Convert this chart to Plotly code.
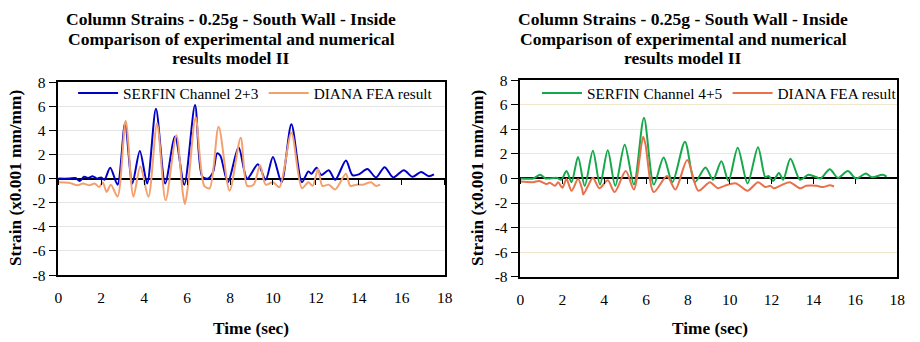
import plotly.graph_objects as go

# ---------------- data ----------------
# Left chart: SERFIN Channel 2+3
t_serfin23 = [0, 0.5, 0.8, 1.0, 1.2, 1.4, 1.6, 1.8, 2.0, 2.15, 2.42, 2.76, 3.11, 3.45, 3.8, 4.14, 4.55, 4.98,
              5.44, 5.87, 6.37, 6.7, 6.95, 7.2, 7.4, 7.55, 7.9, 8.4, 8.8, 9.3, 9.66, 10.0, 10.4, 10.86, 11.35,
              11.65, 11.8, 12.03, 12.25, 12.6, 12.9, 13.4, 13.7, 14.0, 14.4, 14.8, 15.2, 15.6, 16.1, 16.5,
              16.9, 17.26, 17.5]
v_serfin23 = [0, 0.0, 0.05, -0.2, 0.15, 0.05, 0.2, 0.0, 0.1, -0.1, 0.9, -0.5, 4.6, -0.4, 2.3, -0.4, 5.8, -0.4,
              3.5, -0.5, 6.1, 0.2, 0.0, 0.5, 2.1, 1.9, -0.3, 2.6, 0.0, 1.2, -0.1, 1.8, -0.3, 4.5, -0.3,
              0.6, 0.4, 0.9, 0.3, 0.7, -0.1, 1.5, 0.3, 0.35, 0.8, 0.1, 0.95, 0.1, 0.7, 0.15,
              0.55, 0.2, 0.35]

# Left chart: DIANA FEA result
t_diana_l = [0, 0.5, 0.9, 1.15, 1.45, 1.7, 1.9, 2.07, 2.25, 2.45, 2.76, 3.14, 3.5, 3.82, 4.2, 4.6, 5.0, 5.5,
             5.8, 5.9, 6.05, 6.4, 6.8, 7.05, 7.47, 7.98, 8.5, 8.8, 9.1, 9.4, 9.66, 10.0, 10.3, 10.86, 11.35,
             11.65, 11.85, 12.1, 12.3, 12.6, 12.9, 13.4, 13.6, 13.9, 14.2, 14.57, 14.8, 15.0]
v_diana_l = [-0.3, -0.35, -0.55, -0.4, -0.55, -0.4, -0.7, -0.3, -1.1, -0.5, -1.5, 4.8, -1.5, 1.0, -1.5, 4.6,
             -1.8, 3.6, -1.2, -2.1, -0.5, 5.1, -0.6, -0.8, 4.3, -1.0, 3.4, -0.6, -0.5, 1.1, -0.5, -0.3, -0.7,
             3.8, -0.8, -0.3, -0.6, 0.8, -0.6, -0.5, -0.9, 0.4, -0.6, -0.5, -0.5, -0.3, -0.6, -0.5]

# Right chart: SERFIN Channel 4+5
t_serfin45 = [0, 0.6, 0.94, 1.2, 1.73, 1.95, 2.2, 2.44, 2.75, 3.07, 3.46, 3.8, 4.17, 4.53, 4.98, 5.42, 5.9,
              6.37, 6.84, 7.26, 7.86, 8.33, 8.84, 9.2, 9.6, 9.94, 10.38, 10.85, 11.35, 11.7, 11.85, 12.07,
              12.35, 12.55, 12.9, 13.36, 13.76, 14.15, 14.35, 14.78, 15.17, 15.64, 16.04, 16.5, 16.8, 17.3, 17.5]
v_serfin45 = [0, 0, 0.3, 0, 0.05, -0.1, 0.6, -0.3, 1.75, -0.6, 2.25, -0.5, 2.3, -0.6, 2.75, -0.5, 4.95,
              -0.5, 1.7, -0.3, 3.0, -0.3, 0.9, -0.1, 1.4, -0.2, 2.5, -0.4, 2.55, 0.1, 0.2, -0.2,
              0.45, -0.1, 1.6, -0.1, 0.3, 0.1, 0.0, 0.75, 0.05, 0.6, 0.0, 0.4, 0.1, 0.3, 0.15]

# Right chart: DIANA FEA result
t_diana_r = [0, 0.6, 0.9, 1.25, 1.4, 1.65, 1.8, 2.0, 2.2, 2.44, 2.75, 2.95, 3.0, 3.2, 3.46, 3.77, 4.17, 4.5,
             5.03, 5.42, 5.86, 5.97, 6.37, 7.0, 7.4, 7.97, 8.5, 9.05, 9.43, 9.75, 10.3, 10.85, 11.35, 11.7,
             11.95, 12.1, 12.4, 12.86, 13.36, 13.65, 14.15, 14.45, 14.78, 14.98]
v_diana_r = [-0.25, -0.3, -0.2, -0.45, -0.35, -0.6, -0.3, -0.75, -0.05, -1.0, -0.05, -0.9, -1.3, -0.7, 0.05,
             -0.8, -0.15, -1.1, 0.6, -0.9, 3.4, 2.8, -1.1, 0.2, -0.9, 1.5, -1.0, -0.3, -0.8, -0.6, -0.4, -1.0,
             -0.3, -0.7, -0.6, -0.8, -0.6, -0.3, -0.8, -0.6, -0.6, -0.7, -0.55, -0.65]

x_ticks = [0, 2, 4, 6, 8, 10, 12, 14, 16, 18]
x_tick_labels = ["0", "2", "4", "6", "8", "10", "12", "14", "16", "18"]
y_ticks = [-8, -6, -4, -2, 0, 2, 4, 6, 8]
y_tick_labels = ["-8", "-6", "-4", "-2", "0", "2", "4", "6", "8"]
title_lines = ["Column Strains - 0.25g - South Wall - Inside",
               "Comparison of experimental and numerical",
               "results model II"]
x_title = "Time (sec)"
y_title = "Strain (x0.001 mm/mm)"

# ---------------- figure ----------------
FONT = "Liberation Serif, Times New Roman, serif"
W, H = 920, 342

fig = go.Figure()
fig.add_trace(go.Scatter(x=t_serfin23, y=v_serfin23, mode="lines", name="SERFIN Channel 2+3",
                         line=dict(color="#0000C8", width=2, shape="spline", smoothing=0.8),
                         xaxis="x", yaxis="y", legend="legend"))
fig.add_trace(go.Scatter(x=t_diana_l, y=v_diana_l, mode="lines", name="DIANA FEA result",
                         line=dict(color="#F4A06E", width=2, shape="spline", smoothing=0.8),
                         xaxis="x", yaxis="y", legend="legend"))
fig.add_trace(go.Scatter(x=t_serfin45, y=v_serfin45, mode="lines", name="SERFIN Channel 4+5",
                         line=dict(color="#16A84A", width=2, shape="spline", smoothing=0.8),
                         xaxis="x2", yaxis="y2", legend="legend2"))
fig.add_trace(go.Scatter(x=t_diana_r, y=v_diana_r, mode="lines", name="DIANA FEA result",
                         line=dict(color="#E8704A", width=2, shape="spline", smoothing=0.8),
                         xaxis="x2", yaxis="y2", legend="legend2"))
# invisible traces for the tick axes drawn on the zero line
fig.add_trace(go.Scatter(x=[None], y=[None], xaxis="x3", yaxis="y", showlegend=False, hoverinfo="skip"))
fig.add_trace(go.Scatter(x=[None], y=[None], xaxis="x4", yaxis="y2", showlegend=False, hoverinfo="skip"))

L = dict(x0=55, x1=446.5, y0=77, y1=280)
R = dict(x0=523.3, x1=905, y0=75, y1=281.7)


def dom_x(p):
    return [p["x0"] / W, p["x1"] / W]


def dom_y(p):
    return [1 - p["y1"] / H, 1 - p["y0"] / H]


tickfont = dict(family=FONT, size=15.5, color="black")


def xax(p):
    return dict(domain=dom_x(p), range=[0, 18], tickvals=x_ticks, ticktext=x_tick_labels, showgrid=False,
                zeroline=False, showline=True, linecolor="black", linewidth=1.5, mirror=True, ticks="",
                ticklabelstandoff=8, tickfont=tickfont, fixedrange=True)


def yax(p, gridcolor):
    return dict(domain=dom_y(p), range=[-8, 8], tickvals=y_ticks, ticktext=y_tick_labels, showgrid=True,
                gridcolor=gridcolor, gridwidth=1, zeroline=True, zerolinecolor="black", zerolinewidth=1.5,
                showline=True, linecolor="black", linewidth=1.5, mirror=True, ticks="outside",
                ticklen=8, tickcolor="black", tickwidth=1, tickfont=tickfont, fixedrange=True)


def zero_ticks(p, overlay):
    d = dom_y(p)
    return dict(domain=dom_x(p), range=[0, 18], tickvals=x_ticks, overlaying=overlay, anchor="free",
                position=(d[0] + d[1]) / 2, side="bottom", ticks="outside", ticklen=5, tickcolor="black",
                tickwidth=1, showticklabels=False, showline=False, showgrid=False, zeroline=False,
                fixedrange=True)


legend_font = dict(family=FONT, size=15.3, color="black")
fig.update_layout(
    width=W, height=H, margin=dict(l=0, r=0, t=0, b=0),
    paper_bgcolor="white", plot_bgcolor="white",
    font=dict(family=FONT, size=15, color="black"),
    xaxis=xax(L), yaxis=yax(L, "#E4E4E4"),
    xaxis2=dict(xax(R), anchor="y2"), yaxis2=dict(yax(R, "#EFE6CC"), anchor="x2"),
    xaxis3=zero_ticks(L, "x"), xaxis4=zero_ticks(R, "x2"),
    legend=dict(orientation="h", x=70 / W, y=1 - 71 / H, xanchor="left", yanchor="top",
                font=legend_font, bgcolor="rgba(255,255,255,0)", itemwidth=40, tracegroupgap=0),
    legend2=dict(orientation="h", x=540 / W, y=1 - 71 / H, xanchor="left", yanchor="top",
                 font=legend_font, bgcolor="rgba(255,255,255,0)", itemwidth=40, tracegroupgap=0),
    showlegend=True,
)

title_font = dict(family=FONT, size=17.5, color="black")
for cx in (230, 688):
    for line, cy in zip(title_lines, (11, 32, 52)):
        fig.add_annotation(text="<b>" + line + "</b>", x=cx / W, y=1 - cy / H, xref="paper", yref="paper",
                           xanchor="center", yanchor="middle", showarrow=False, font=title_font)
axis_title_font = dict(family=FONT, size=17.3, color="black")
for cx in (250, 715):
    fig.add_annotation(text="<b>" + x_title + "</b>", x=cx / W, y=1 - 336 / H, xref="paper", yref="paper",
                       xanchor="center", yanchor="middle", showarrow=False, font=axis_title_font)
for cx in (11, 479):
    fig.add_annotation(text="<b>" + y_title + "</b>", x=cx / W, y=1 - 178 / H, xref="paper",
                       yref="paper", xanchor="center", yanchor="middle", showarrow=False,
                       font=axis_title_font, textangle=-90)

fig.write_html("out.html")
